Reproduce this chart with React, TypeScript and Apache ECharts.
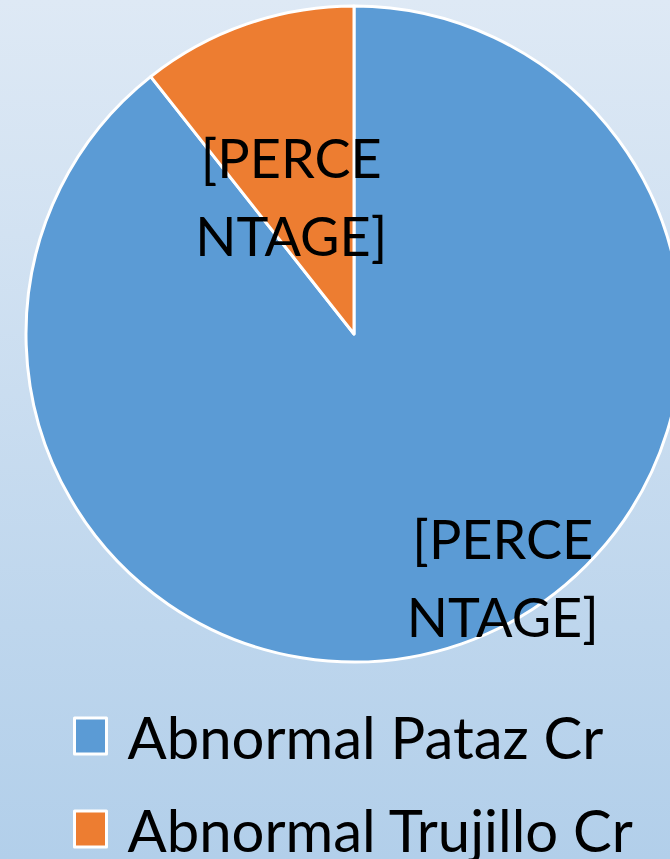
import React, { useEffect, useRef } from "react";
import * as echarts from "echarts";

const categories = ["Abnormal Pataz Cr", "Abnormal Trujillo Cr"];
const values = [84, 10];
const sliceColors = ["#5b9bd5", "#ed7d31"];
const labelText = "[PERCE\nNTAGE]";

export default function App() {
  const ref = useRef<HTMLDivElement>(null);
  useEffect(() => {
    if (!ref.current) return;
    const chart = echarts.init(ref.current, undefined, { renderer: "svg" });
    const fontFamily = "Lato, 'Noto Sans', sans-serif";
    const legendBase = {
      type: "plain",
      orient: "vertical",
      left: 73,
      padding: 0,
      itemWidth: 32,
      itemHeight: 36,
      icon: "rect",
      itemStyle: { borderColor: "#ffffff", borderWidth: 3 },
      textStyle: {
        fontFamily,
        fontSize: 58,
        lineHeight: 50,
        color: "#000000",
        padding: [0, 0, 0, 16],
      },
      selectedMode: false,
    };
    chart.setOption({
      animation: false,
      backgroundColor: {
        type: "linear",
        x: 0, y: 0, x2: 0, y2: 1,
        colorStops: [
          { offset: 0, color: "#dee9f5" },
          { offset: 1, color: "#b2cfea" },
        ],
      },
      legend: categories.map((name, i) => ({
        ...legendBase,
        top: i === 0 ? 707 : 800,
        data: [name],
      })),
      series: [
        {
          type: "pie",
          center: [354, 334],
          radius: 328,
          startAngle: 90,
          clockwise: true,
          silent: true,
          itemStyle: { borderColor: "#ffffff", borderWidth: 3 },
          label: {
            show: true,
            position: "inside",
            formatter: () => labelText,
            fontFamily,
            fontSize: 54,
            lineHeight: 78,
            color: "#000000",
          },
          labelLine: { show: false },
          data: categories.map((name, i) => ({
            name,
            value: values[i],
            itemStyle: { color: sliceColors[i] },
            label: { offset: i === 0 ? [94, 86] : [-8, 20] },
          })),
        },
      ],
    });
    return () => chart.dispose();
  }, []);
  return (
    <div
      ref={ref}
      style={{ position: "absolute", left: 0, top: 0, width: 670, height: 859 }}
    />
  );
}
